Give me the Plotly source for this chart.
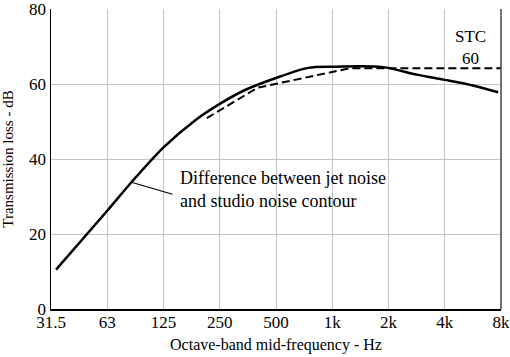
import plotly.graph_objects as go

# Octave index: 0 = 31.5 Hz, 8 = 8 kHz
tick_labels = ["31.5", "63", "125", "250", "500", "1k", "2k", "4k", "8k"]
y_ticks = [0, 20, 40, 60, 80]

solid_x = [0.09, 1.0, 1.43, 2.0, 2.56, 3.0, 3.45, 4.0, 4.57, 5.0, 5.9, 6.5, 7.0, 7.5, 7.95]
solid_y = [10.5, 26.2, 33.8, 43.1, 50.3, 54.7, 58.4, 61.6, 64.3, 64.6, 64.5, 62.5, 61.1, 59.6, 57.8]

stc_x = [2.77, 3.67, 5.31, 8.0]
stc_y = [50.9, 59.0, 64.2, 64.2]

FONT = "Liberation Serif"

fig = go.Figure()
fig.add_trace(go.Scatter(x=solid_x, y=solid_y, mode="lines",
                         line=dict(color="black", width=2.5, shape="spline", smoothing=0.8),
                         hoverinfo="skip"))
fig.add_trace(go.Scatter(x=stc_x, y=stc_y, mode="lines",
                         line=dict(color="black", width=2, dash="8px,4px"),
                         hoverinfo="skip"))

# leader line
fig.add_shape(type="line", x0=1.43, y0=33.8, x1=2.16, y1=30.6, xref="x", yref="y",
              line=dict(color="black", width=1.2))
# right border
fig.add_shape(type="line", x0=1, x1=1, y0=0, y1=1, xref="paper", yref="paper",
              line=dict(color="#444444", width=1.5))

fig.add_annotation(x=2.26, y=32.0, xref="x", yref="y", xanchor="left", yanchor="middle",
                   text="Difference between jet noise<br>and studio noise contour",
                   showarrow=False, align="left", font=dict(family=FONT, size=18, color="black"))
fig.add_annotation(x=7.45, y=69.7, xref="x", yref="y", text="STC<br>60", showarrow=False,
                   align="center", font=dict(family=FONT, size=17, color="black"))

fig.update_layout(
    width=510, height=357, autosize=False,
    margin=dict(l=51, r=9, t=9, b=48, autoexpand=False),
    paper_bgcolor="white", plot_bgcolor="white",
    showlegend=False,
    font=dict(family=FONT, size=17, color="black"),
    xaxis=dict(range=[0, 8], tickmode="array", tickvals=list(range(9)), ticktext=tick_labels,
               showgrid=True, gridcolor="#c4c4c4", gridwidth=1, zeroline=False,
               showline=True, linecolor="black", linewidth=1.5, ticks="", automargin=False,
               ticklabeloverflow="allow", ticklabelstandoff=-3,
               tickfont=dict(family=FONT, size=17),
               title=dict(text="Octave-band mid-frequency - Hz", standoff=8,
                          font=dict(family=FONT, size=16))),
    yaxis=dict(range=[0, 80], tickmode="array", tickvals=y_ticks,
               showgrid=True, gridcolor="#c4c4c4", gridwidth=1, zeroline=False,
               showline=True, linecolor="black", linewidth=1.5, ticks="", automargin=False,
               ticklabeloverflow="allow", tickfont=dict(family=FONT, size=17),
               title=dict(text="Transmission loss - dB", standoff=14,
                          font=dict(family=FONT, size=15))),
)

fig.write_html("out.html",
               config={"responsive": False, "displayModeBar": False, "staticPlot": True},
               default_width="510px", default_height="357px",
               post_script="document.body.style.margin='0';document.body.style.overflow='hidden';")
